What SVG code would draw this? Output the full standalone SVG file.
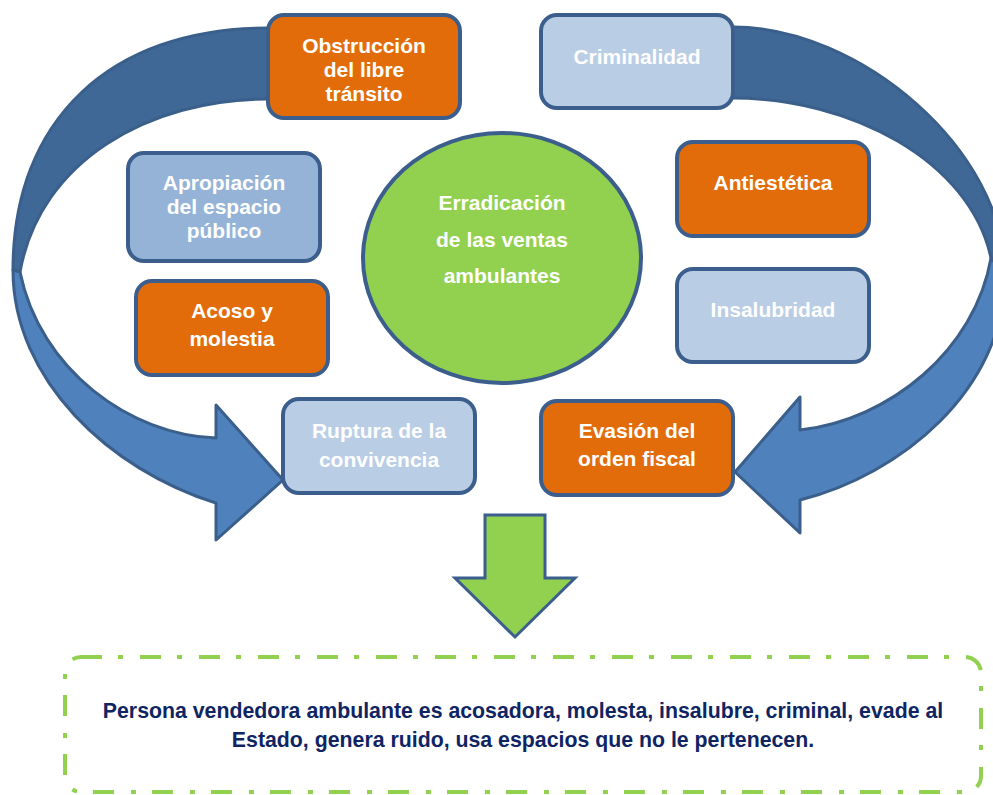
<svg xmlns="http://www.w3.org/2000/svg" width="993" height="795" viewBox="0 0 993 795">
  <style>
    .back { fill: #406897; stroke: #3A5F8B; stroke-width: 3; stroke-linejoin: round; }
    .front { fill: #4F81BD; stroke: #3A5F8B; stroke-width: 3; stroke-linejoin: round; }
    .box { stroke: #3B5E8C; stroke-width: 4; }
    .orange { fill: #E36C0A; }
    .pale { fill: #B9CDE5; }
    .mid { fill: #95B3D7; }
    .lbl { font-family: "Liberation Sans", Arial, sans-serif; font-size: 21px; font-weight: bold; fill: #FFFFFF; text-anchor: middle; }
    .note { font-family: "Liberation Sans", Arial, sans-serif; font-size: 21.3px; font-weight: bold; fill: #0F2563; text-anchor: middle; }
  </style>

  <g id="connectors">
    <!-- left circular arrow: back band then front band with head -->
    <path class="back" d="M300,28 L268,28 C110,28 13,120 13,270 L20,272 C40,160 150,99 268,99 L300,99 Z"/>
    <path class="front" d="M13,270 C13,380 110,470 216,503 L216,540 L283,480 L216,405 L216,438 C130,435 40,370 20,272 Z"/>
    <!-- right circular arrow -->
    <path class="back" d="M700,27 L733,27 C860,27 1005,150 1005,275 L991,258 C970,160 850,98 733,98 L700,98 Z"/>
    <path class="front" d="M1005,275 C1005,390 900,475 800,500 L800,533 L735,472 L800,397 L800,430 C890,420 975,350 991,258 Z"/>
    <!-- downward block arrow to the conclusion -->
    <path d="M485,515 L545,515 L545,578 L575,578 L515,637 L455,578 L485,578 Z" fill="#92D050" stroke="#3B5E8C" stroke-width="3" stroke-linejoin="miter"/>
  </g>

  <g id="centro">
    <ellipse cx="502" cy="258" rx="139" ry="125" fill="#92D050" stroke="#3B5E8C" stroke-width="4"/>
    <text class="lbl" x="502" y="210">Erradicación</text>
    <text class="lbl" x="502" y="247">de las ventas</text>
    <text class="lbl" x="502" y="283">ambulantes</text>
  </g>

  <g id="obstruccion">
    <rect class="box orange" x="268" y="15" width="192" height="103" rx="16"/>
    <text class="lbl" x="364" y="53">Obstrucción</text>
    <text class="lbl" x="364" y="77">del libre</text>
    <text class="lbl" x="364" y="101">tránsito</text>
  </g>

  <g id="criminalidad">
    <rect class="box pale" x="541" y="15" width="192" height="93" rx="16"/>
    <text class="lbl" x="637" y="64">Criminalidad</text>
  </g>

  <g id="apropiacion">
    <rect class="box mid" x="128" y="153" width="192" height="108" rx="16"/>
    <text class="lbl" x="224" y="190">Apropiación</text>
    <text class="lbl" x="224" y="214">del espacio</text>
    <text class="lbl" x="224" y="238">público</text>
  </g>

  <g id="acoso">
    <rect class="box orange" x="136" y="281" width="192" height="94" rx="16"/>
    <text class="lbl" x="232" y="318">Acoso y</text>
    <text class="lbl" x="232" y="346">molestia</text>
  </g>

  <g id="antiestetica">
    <rect class="box orange" x="677" y="142" width="192" height="94" rx="16"/>
    <text class="lbl" x="773" y="190">Antiestética</text>
  </g>

  <g id="insalubridad">
    <rect class="box pale" x="677" y="269" width="192" height="93" rx="16"/>
    <text class="lbl" x="773" y="317">Insalubridad</text>
  </g>

  <g id="ruptura">
    <rect class="box pale" x="283" y="399" width="192" height="94" rx="16"/>
    <text class="lbl" x="379" y="438">Ruptura de la</text>
    <text class="lbl" x="379" y="467">convivencia</text>
  </g>

  <g id="evasion">
    <rect class="box orange" x="541" y="401" width="192" height="94" rx="16"/>
    <text class="lbl" x="637" y="438">Evasión del</text>
    <text class="lbl" x="637" y="466">orden fiscal</text>
  </g>

  <g id="conclusion">
    <rect x="65" y="657" width="916" height="135" rx="16" fill="none" stroke="#92D050" stroke-width="4" stroke-dasharray="21 16 5 17"/>
    <text class="note" x="523" y="718">Persona vendedora ambulante es acosadora, molesta, insalubre, criminal, evade al</text>
    <text class="note" x="523" y="747">Estado, genera ruido, usa espacios que no le pertenecen.</text>
  </g>
</svg>
